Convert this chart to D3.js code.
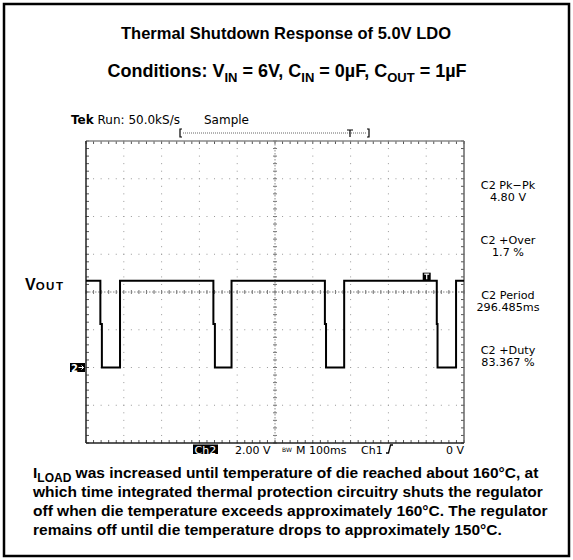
<!DOCTYPE html>
<html lang="en">
<head>
<meta charset="UTF-8">
<title>Thermal Shutdown Response of 5.0V LDO</title>
<style>
    html, body { margin: 0; padding: 0; background: #fff; }
    svg { display: block; }
    .bold { font-family: 'Liberation Sans', Arial, sans-serif; font-weight: bold; fill: #000; }
    .scope { font-family: 'DejaVu Sans', sans-serif; fill: #000; }
</style>
</head>
<body>
<div id="chart"></div>
<script src="https://d3js.org/d3.v7.min.js"></script>
<script>
    // trace of channel 2 (time in ms, volts)
    const traceTime = [0, 38, 38, 42, 42, 90, 90, 337, 337, 341, 341, 385, 385, 632, 632, 635, 635, 683, 683, 928, 928, 930, 930, 979, 979, 1000];
    const traceVolt = [4.6, 4.6, 2.3, 2.3, 0, 0, 4.6, 4.6, 2.3, 2.3, 0, 0, 4.6, 4.6, 2.3, 2.3, 0, 0, 4.6, 4.6, 2.3, 2.3, 0, 0, 4.6, 4.6];

    const measureNames = ["C2 Pk\u2212Pk", "C2 +Over", "C2 Period", "C2 +Duty"];
    const measureValues = ["4.80 V", "1.7 %", "296.485ms", "83.367 %"];

    const noteLines = [
        "which time integrated thermal protection circuitry shuts the regulator",
        "off when die temperature exceeds approximately 160\u00b0C. The regulator",
        "remains off until die temperature drops to approximately 150\u00b0C."
    ];

    const W = 573, H = 560;
    const plot = {left: 86, right: 464, top: 141, bottom: 443};

    const svg = d3.select("#chart").append("svg")
        .attr("width", W).attr("height", H);

    // outer frame
    svg.append("rect")
        .attr("x", 4).attr("y", 4).attr("width", 565).attr("height", 552)
        .attr("fill", "none").attr("stroke", "#000").attr("stroke-width", 2.5);

    // titles
    svg.append("text").attr("class", "bold")
        .attr("x", 286).attr("y", 39).attr("text-anchor", "middle")
        .style("font-size", "16.5px")
        .text("Thermal Shutdown Response of 5.0V LDO");

    const cond = svg.append("text").attr("class", "bold")
        .attr("x", 287).attr("y", 77).attr("text-anchor", "middle")
        .style("font-size", "18px");
    const condParts = [["Conditions: V", 0], ["IN", 1], [" = 6V, C", 0], ["IN", 1], [" = 0\u00b5F, C", 0], ["OUT", 1], [" = 1\u00b5F", 0]];
    let prevSub = 0;
    condParts.forEach(([t, sub]) => {
        cond.append("tspan")
            .attr("dy", (sub - prevSub) * 5)
            .style("font-size", sub ? "13px" : "18px")
            .text(t);
        prevSub = sub;
    });

    // scales: 10 div x 100ms, 8 div x 2V, ground two divisions below centre
    const x = d3.scaleLinear().domain([0, 1000]).range([plot.left, plot.right]);
    const y = d3.scaleLinear().domain([-4, 12]).range([plot.bottom, plot.top]);

    const g = svg.append("g");
    const minorX = d3.range(0, 1000.01, 20);
    const minorY = d3.range(-4, 12.01, 0.4);
    const majorX = d3.range(100, 1000, 100);
    const majorY = d3.range(-2, 12, 2);

    // dotted grid: dots at each minor division along major lines
    majorY.forEach(v => {
        g.selectAll(null).data(minorX).enter().append("rect")
            .attr("x", d => x(d) - 0.5).attr("y", y(v) - 0.5)
            .attr("width", 1).attr("height", 1).attr("fill", "#999");
    });
    majorX.forEach(t => {
        g.selectAll(null).data(minorY).enter().append("rect")
            .attr("x", x(t) - 0.5).attr("y", d => y(d) - 0.5)
            .attr("width", 1).attr("height", 1).attr("fill", "#999");
    });

    // centre lines with ticks
    const cx = x(500), cy = y(4);
    g.selectAll(null).data(minorX).enter().append("line")
        .attr("x1", d => x(d)).attr("x2", d => x(d))
        .attr("y1", cy - 2).attr("y2", cy + 2)
        .attr("stroke", "#777").attr("stroke-width", 1);
    g.selectAll(null).data(minorY).enter().append("line")
        .attr("y1", d => y(d)).attr("y2", d => y(d))
        .attr("x1", cx - 2).attr("x2", cx + 2)
        .attr("stroke", "#777").attr("stroke-width", 1);
    g.append("line").attr("x1", plot.left).attr("x2", plot.right)
        .attr("y1", cy).attr("y2", cy)
        .attr("stroke", "#888").attr("stroke-dasharray", "1.5,1.5");
    g.append("line").attr("x1", cx).attr("x2", cx)
        .attr("y1", plot.top).attr("y2", plot.bottom)
        .attr("stroke", "#888").attr("stroke-dasharray", "1.5,1.5");

    // frame ticks
    g.selectAll(null).data(minorX).enter().append("line")
        .attr("x1", d => x(d)).attr("x2", d => x(d))
        .attr("y1", plot.top).attr("y2", plot.top + 3)
        .attr("stroke", "#555");
    g.selectAll(null).data(minorX).enter().append("line")
        .attr("x1", d => x(d)).attr("x2", d => x(d))
        .attr("y1", plot.bottom).attr("y2", plot.bottom - 3)
        .attr("stroke", "#555");
    g.selectAll(null).data(minorY).enter().append("line")
        .attr("y1", d => y(d)).attr("y2", d => y(d))
        .attr("x1", plot.left).attr("x2", plot.left + 3)
        .attr("stroke", "#555");
    g.selectAll(null).data(minorY).enter().append("line")
        .attr("y1", d => y(d)).attr("y2", d => y(d))
        .attr("x1", plot.right).attr("x2", plot.right - 3)
        .attr("stroke", "#555");

    // frame
    g.append("line").attr("x1", plot.left).attr("x2", plot.right)
        .attr("y1", plot.top).attr("y2", plot.top).attr("stroke", "#888").attr("stroke-width", 1.5);
    g.append("line").attr("x1", plot.right).attr("x2", plot.right)
        .attr("y1", plot.top).attr("y2", plot.bottom).attr("stroke", "#666").attr("stroke-width", 1.5);
    g.append("line").attr("x1", plot.left).attr("x2", plot.left)
        .attr("y1", plot.top).attr("y2", plot.bottom).attr("stroke", "#222").attr("stroke-width", 1.5);
    g.append("line").attr("x1", plot.left).attr("x2", plot.right)
        .attr("y1", plot.bottom).attr("y2", plot.bottom).attr("stroke", "#222").attr("stroke-width", 1.5);

    // trace
    const line = d3.line().x(d => x(d[0])).y(d => y(d[1]));
    svg.append("path")
        .datum(d3.zip(traceTime, traceVolt))
        .attr("d", line)
        .attr("fill", "none").attr("stroke", "#000").attr("stroke-width", 2);

    // trigger marker on trace
    const tx = x(900);
    svg.append("rect").attr("x", tx - 3.5).attr("y", y(4.6) - 8).attr("width", 8).attr("height", 8).attr("fill", "#000");
    svg.append("path").attr("d", `M${tx - 2},${y(4.6) - 6.5}h5M${tx + 0.5},${y(4.6) - 6.5}v5`)
        .attr("stroke", "#fff").attr("stroke-width", 1.2);

    // ground marker
    svg.append("rect").attr("x", 70).attr("y", y(0) - 4.5).attr("width", 15).attr("height", 9).attr("fill", "#000");
    svg.append("text").attr("x", 71).attr("y", y(0) + 4).attr("fill", "#fff")
        .style("font-family", "'DejaVu Sans', sans-serif").style("font-weight", "bold").style("font-size", "10px").text("2");
    svg.append("path").attr("d", `M78.5,${y(0)}h5M81.5,${y(0) - 2}l2,2l-2,2`)
        .attr("stroke", "#fff").attr("fill", "none").attr("stroke-width", 1);

    // header of the scope
    const head = svg.append("text").attr("class", "scope").attr("x", 71).attr("y", 124).style("font-size", "12px");
    head.append("tspan").style("font-weight", "bold").text("Tek");
    head.append("tspan").text(" Run: 50.0kS/s");
    svg.append("text").attr("class", "scope").attr("x", 204).attr("y", 124).style("font-size", "12px").text("Sample");

    // record bracket
    const by = 133;
    svg.append("path").attr("d", `M182,${by - 4}h-2v8h2`).attr("stroke", "#000").attr("fill", "none").attr("stroke-width", 1.2);
    svg.append("path").attr("d", `M367,${by - 4}h2v8h-2`).attr("stroke", "#000").attr("fill", "none").attr("stroke-width", 1.2);
    svg.append("line").attr("x1", 183).attr("x2", 367).attr("y1", by).attr("y2", by)
        .attr("stroke", "#666").attr("stroke-dasharray", "1,1");
    svg.append("path").attr("d", `M347,${by - 3}h6M350,${by - 3}v7`).attr("stroke", "#000").attr("stroke-width", 1.2);

    // Vout label
    const vout = svg.append("text").attr("class", "bold").attr("x", 25).attr("y", 290).style("font-size", "16px");
    vout.append("tspan").text("V");
    vout.append("tspan").style("font-size", "11.5px").style("letter-spacing", "1.5px").text("OUT");

    // measurements
    const meas = svg.append("g").attr("class", "scope").style("font-size", "11.2px").attr("text-anchor", "middle");
    const measY = [189, 244, 299, 354];
    meas.selectAll("text.n").data(measureNames).enter().append("text")
        .attr("x", 508).attr("y", (d, i) => measY[i]).text(d => d);
    meas.selectAll("text.v").data(measureValues).enter().append("text")
        .attr("x", 508).attr("y", (d, i) => measY[i] + 11.5).text(d => d);

    // status line
    svg.append("rect").attr("x", 193).attr("y", 444.5).attr("width", 25).attr("height", 9.5).attr("fill", "#000");
    const st = svg.append("g").attr("class", "scope").style("font-size", "11px");
    st.append("text").attr("x", 194.5).attr("y", 453.5).style("fill", "#fff").text("Ch2");
    st.append("text").attr("x", 235).attr("y", 453.5).text("2.00 V");
    st.append("text").attr("x", 282).attr("y", 452).style("font-size", "6px").text("BW");
    st.append("text").attr("x", 296).attr("y", 453.5).text("M 100ms");
    st.append("text").attr("x", 361).attr("y", 453.5).text("Ch1");
    svg.append("path").attr("d", "M386,453h2.5l2,-8h2.5").attr("stroke", "#000").attr("fill", "none").attr("stroke-width", 1.3);
    st.append("text").attr("x", 464).attr("y", 453.5).attr("text-anchor", "end").text("0 V");

    // note
    const note = svg.append("g").attr("class", "bold").style("font-size", "15.5px");
    const first = note.append("text").attr("x", 33).attr("y", 478);
    first.append("tspan").text("I");
    first.append("tspan").attr("dy", 3.5).style("font-size", "12px").text("LOAD");
    first.append("tspan").attr("dy", -3.5).text(" was increased until temperature of die reached about 160\u00b0C, at");
    note.selectAll("text.l").data(noteLines).enter().append("text")
        .attr("x", 33).attr("y", (d, i) => 497 + i * 19).text(d => d);
</script>
</body>
</html>
